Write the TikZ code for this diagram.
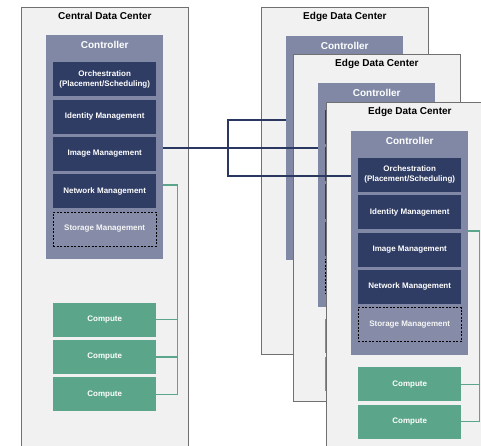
\documentclass[tikz,border=0pt]{standalone}
\usepackage{fontspec}
\setmainfont{Liberation Sans}
\usetikzlibrary{positioning}

\definecolor{dcfill}{HTML}{F1F1F1}
\definecolor{dcline}{HTML}{707070}
\definecolor{ctrlfill}{HTML}{8088A6}
\definecolor{mgmtfill}{HTML}{2F3C64}
\definecolor{storefill}{HTML}{868CA8}
\definecolor{cmpfill}{HTML}{5BA68A}
\definecolor{linenavy}{HTML}{2A3760}

\begin{document}
\begin{tikzpicture}[x=1pt,y=-1pt]
		\tikzset{
			node distance=3pt and 3pt,
			dc/.style={rectangle, draw=dcline, fill=dcfill, line width=0.8pt, anchor=north west,
			minimum width=167pt, minimum height=347pt, inner sep=0pt},
			title/.style={font=\bfseries\fontsize{10}{12}\selectfont, inner sep=0pt, text height=7.2pt, text depth=0pt},
			ctrl/.style={rectangle, fill=ctrlfill, anchor=north west, minimum width=117pt, minimum height=224pt, inner sep=0pt},
			ctrltext/.style={title, text=white},
			mgmt/.style={rectangle, fill=mgmtfill, text=white, align=center, font=\bfseries\fontsize{8}{10}\selectfont,
			minimum width=103pt, minimum height=34pt, inner sep=0pt},
			storage/.style={mgmt, fill=storefill, draw=black, dash pattern=on 2pt off 1.5pt, line width=0.9pt, text=white!96!black},
			compute/.style={mgmt, fill=cmpfill},
			navyline/.style={draw=linenavy, line width=1.4pt},
			greenline/.style={draw=cmpfill, line width=1.2pt}
		}
		\clip (0,0) rectangle (481,446);

		% central data center
		\node[dc, minimum height=443pt](dcC) at (21,7){};
		\node[title, below=5.5pt of dcC.north](titleC){Central Data Center};
		\node[ctrl](ctrlC) at (46,35){};
		\node[ctrltext, below=6.5pt of ctrlC.north](ctrlCt){Controller};
		\node[mgmt, below=27pt of ctrlC.north](orchC){Orchestration\\(Placement/Scheduling)};
		\node[mgmt, below=of orchC](idC){Identity Management};
		\node[mgmt, below=of idC](imgC){Image Management};
		\node[mgmt, below=of imgC](netC){Network Management};
		\node[storage, below=of netC](stoC){Storage Management};
		\node[compute, below=43pt of ctrlC.south](cmpC1){Compute};
		\node[compute, below=of cmpC1](cmpC2){Compute};
		\node[compute, below=of cmpC2](cmpC3){Compute};

		\path (ctrlC.north east) ++(14,150) coordinate (gC);
		\draw[greenline](ctrlC.east |- gC) -- (gC) |- (cmpC3.east);
		\draw[greenline](cmpC1.east) -- (cmpC1.east -| gC);
		\draw[greenline](cmpC2.east) -- (cmpC2.east -| gC);

		% edge data centers (only the front one shows its box labels)
		\foreach \i/\x/\y/\t in {1/261/7/0, 2/293/54/0, 3/326/102/1}{
			\node[dc](dc\i) at (\x,\y){};
			\node[title, below=5.5pt of dc\i.north](title\i){Edge Data Center};
			\node[ctrl](ctrl\i) at (\x+25,\y+28.5){};
			\node[ctrltext, below=6.5pt of ctrl\i.north](ctrlt\i){Controller};
			\node[mgmt, below=27pt of ctrl\i.north](orch\i){\ifnum\t=1 Orchestration\\(Placement/Scheduling)\fi};
			\node[mgmt, below=of orch\i](id\i){\ifnum\t=1 Identity Management\fi};
			\node[mgmt, below=of id\i](img\i){\ifnum\t=1 Image Management\fi};
			\node[mgmt, below=of img\i](net\i){\ifnum\t=1 Network Management\fi};
			\node[storage, below=of net\i](sto\i){\ifnum\t=1 Storage Management\fi};
			\node[compute, below=12pt of ctrl\i.south](cmp\i a){\ifnum\t=1 Compute\fi};
			\node[compute, below=of cmp\i a](cmp\i b){\ifnum\t=1 Compute\fi};

			\path (ctrl\i.north east) ++(11,100.5) coordinate (g\i);
			\draw[greenline](ctrl\i.east |- g\i) -- (g\i) |- (cmp\i b.east);
			\draw[greenline](cmp\i a.east) -- (cmp\i a.east -| g\i);
		}

		% links between controllers
		\coordinate (jtop) at (228,120);
		\coordinate (jmid) at (228,148);
		\coordinate (jbot) at (228,176);
		\draw[navyline](ctrlC.east |- jmid) -- (jmid);
		\draw[navyline](ctrl1.west |- jtop) -- (jtop) -- (jbot) -- (ctrl3.west |- jbot);
		\draw[navyline](jmid) -- (ctrl2.west |- jmid);

	\end{tikzpicture}
\end{document}
